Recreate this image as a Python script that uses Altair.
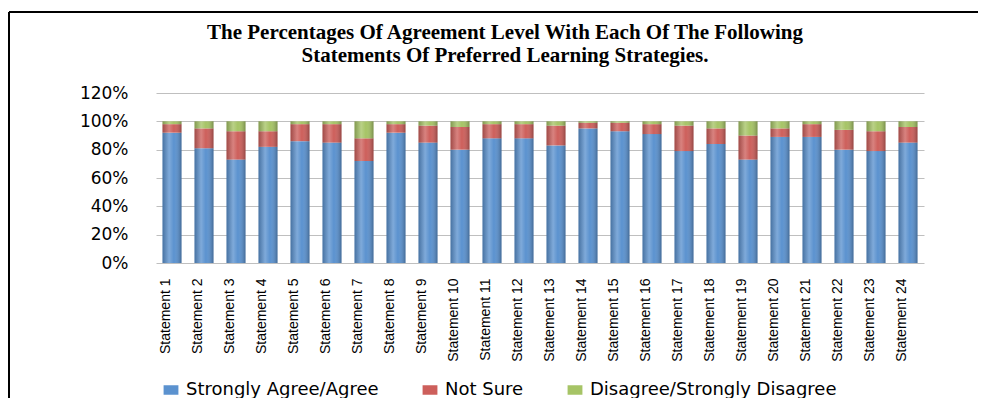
import altair as alt
import pandas as pd

statements = [f"Statement {i}" for i in range(1, 25)]
agree = [92, 81, 73, 82, 86, 85, 72, 92, 85, 80, 88, 88, 83, 95, 93, 91, 79, 84, 73, 89, 89, 80, 79, 85]
not_sure = [6, 14, 20, 11, 12, 13, 16, 6, 12, 16, 10, 10, 14, 4, 6, 7, 18, 11, 17, 6, 9, 14, 14, 11]
disagree = [2, 5, 7, 7, 2, 2, 12, 2, 3, 4, 2, 2, 3, 1, 1, 2, 3, 5, 10, 5, 2, 6, 7, 4]
series = ["Strongly Agree/Agree", "Not Sure", "Disagree/Strongly Disagree"]
colors = ["#5B92CF", "#CD5F5B", "#A6C466"]
y_ticks = [0, 20, 40, 60, 80, 100, 120]
title_lines = ["The Percentages Of Agreement Level With Each Of The Following",
               "Statements Of  Preferred Learning Strategies."]

rows = []
for i, s in enumerate(statements):
    base = 0
    for k, vals in enumerate([agree, not_sure, disagree]):
        v = vals[i]
        rows.append({"statement": s, "series": series[k], "order": k,
                     "start": base, "end": base + v, "value": v})
        base += v
df = pd.DataFrame(rows)
tot = pd.DataFrame({"statement": statements,
                    "total": [a + b + c for a, b, c in zip(agree, not_sure, disagree)]})

W, H = 768, 170
xscale = alt.Scale(domain=statements, paddingInner=0.4, paddingOuter=0.2)
yscale = alt.Scale(domain=[0, 120], nice=False)
xaxis = alt.Axis(labelAngle=-90, labelFont="Liberation Sans", labelFontSize=14,
                 labelColor="#000000", labelPadding=15, labelOffset=-6,
                 ticks=False, domain=False, grid=False, labelOverlap=False)
yaxis = alt.Axis(values=y_ticks, labelExpr="datum.value + '%'",
                 labelFont="DejaVu Sans", labelFontSize=17, labelColor="#000000",
                 labelPadding=28, tickSize=0, ticks=False, domain=False,
                 labelOverlap=False, grid=True, gridColor="#BFBFBF", gridWidth=1.2)

bars = alt.Chart(df).mark_bar(size=19).encode(
    x=alt.X("statement:N", scale=xscale, sort=statements, title=None, axis=xaxis),
    y=alt.Y("start:Q", scale=yscale, title=None, axis=yaxis),
    y2="end:Q",
    color=alt.Color("series:N", scale=alt.Scale(domain=series, range=colors),
                    legend=alt.Legend(title=None, orient="none", direction="horizontal",
                                      legendX=6, legendY=288, padding=0,
                                      columnPadding=42, labelFont="DejaVu Sans",
                                      labelFontSize=18, labelColor="#000000",
                                      symbolType="M-1,-0.64H1V0.64H-1Z", symbolSize=220,
                                      symbolStrokeWidth=0, labelOffset=6, labelLimit=400)),
    order=alt.Order("order:Q"),
)

shade = alt.Chart(tot).mark_bar(size=19, color=alt.Gradient(
    gradient="linear", x1=0, x2=1, y1=0, y2=0,
    stops=[alt.GradientStop(color="rgba(0,0,0,0.22)", offset=0),
           alt.GradientStop(color="rgba(255,255,255,0.22)", offset=0.35),
           alt.GradientStop(color="rgba(255,255,255,0)", offset=0.6),
           alt.GradientStop(color="rgba(0,0,0,0.28)", offset=1)])).encode(
    x=alt.X("statement:N", scale=xscale, sort=statements, title=None, axis=xaxis),
    y=alt.Y("total:Q", scale=yscale, title=None, axis=yaxis),
    y2=alt.datum(0),
)

frame = pd.DataFrame({"a": [0]})
top_line = alt.Chart(frame).mark_rule(color="#000000", strokeWidth=2, clip=False).encode(
    x=alt.value(-147), x2=alt.value(830), y=alt.value(-81))
left_line = alt.Chart(frame).mark_rule(color="#000000", strokeWidth=2, clip=False).encode(
    x=alt.value(-147), y=alt.value(-81), y2=alt.value(320))

title_layers = []
for line, ypos in zip(title_lines, [-60, -37]):
    title_layers.append(
        alt.Chart(frame).mark_text(font="Liberation Serif", fontSize=21, fontWeight="bold",
                                   color="#000000", align="center", baseline="middle",
                                   clip=False).encode(
            text=alt.value(line), x=alt.value(349), y=alt.value(ypos)))

chart = alt.layer(bars, shade, top_line, left_line, *title_layers).properties(
    width=W, height=H,
    background="#FFFFFF",
    autosize=alt.AutoSizeParams(type="none"),
    padding={"left": 148, "top": 85, "right": 54, "bottom": 135},
).configure_view(stroke=None)

chart.save("out.html", embed_options={"renderer": "svg", "actions": False})
